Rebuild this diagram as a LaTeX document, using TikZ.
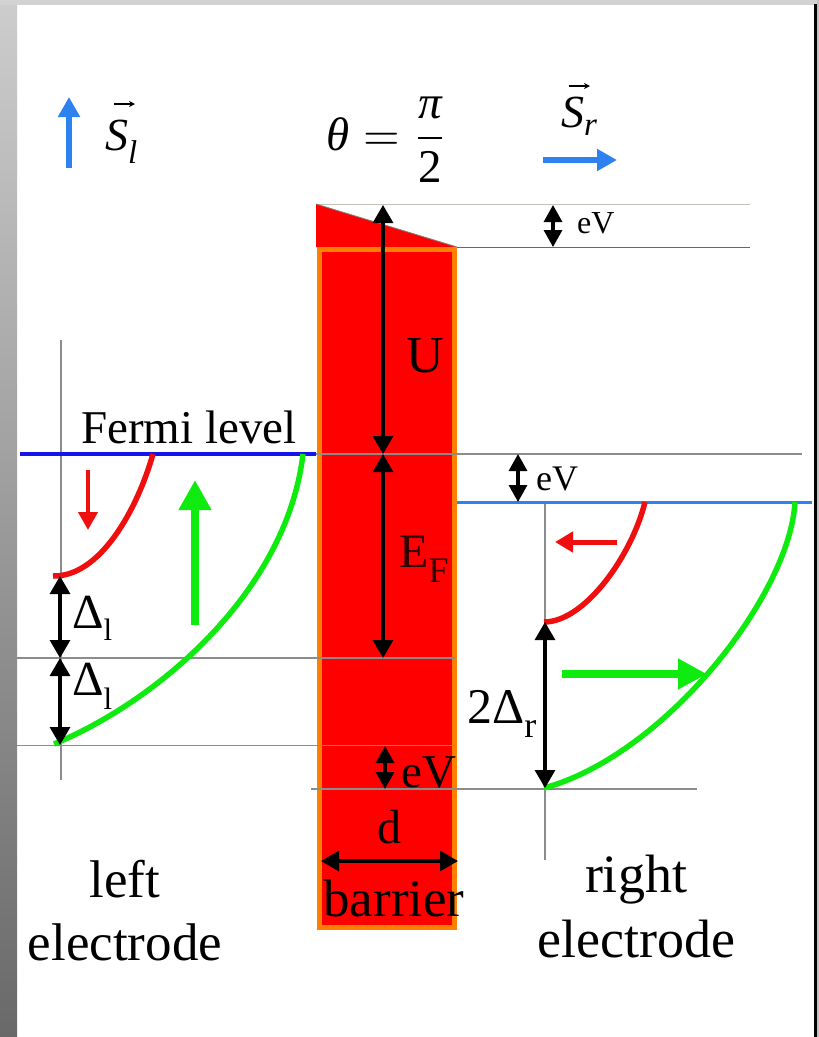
\documentclass[tikz,border=0pt]{standalone}
\usepackage{fontspec}
\setmainfont{Liberation Serif}
\usetikzlibrary{arrows.meta}
\definecolor{bluefermi}{RGB}{20,20,235}
\definecolor{bluelight}{RGB}{45,130,240}
\definecolor{redc}{RGB}{240,15,15}
\definecolor{barred}{RGB}{255,0,0}
\definecolor{barorange}{RGB}{255,128,0}
\definecolor{greenc}{RGB}{15,235,15}
\definecolor{linegray}{RGB}{140,140,140}
\definecolor{toplinegray}{RGB}{195,195,180}
\definecolor{slategray}{RGB}{100,100,125}
\definecolor{darktext}{RGB}{45,0,0}
\definecolor{framegray}{RGB}{210,210,210}
\definecolor{stripA}{RGB}{205,205,205}
\definecolor{stripB}{RGB}{105,105,105}
\newcommand\myfs[2]{\fontsize{#1}{#2}\selectfont}
\begin{document}
\begin{tikzpicture}[x=1pt,y=-1pt,
  thinline/.style={line width=1.2pt, draw=linegray},
  dimarrow/.style={line width=3.2pt, {Triangle[length=18pt,width=20pt]}-{Triangle[length=18pt,width=20pt]}},
  smalldim/.style={line width=3.2pt, {Triangle[length=17pt,width=18pt]}-{Triangle[length=17pt,width=18pt]}},
  vecarrow/.style={line width=1.3pt, -{Stealth[length=6pt,width=6pt]}},
  bandcurve/.style={line width=5.5pt},
  lbl/.style={inner sep=0pt, text=black},
]
% frame
\fill[white] (0,0) rectangle (819,1037);
\shade[top color=stripA, bottom color=stripB] (0,0) rectangle (17,1037);
\fill[framegray] (0,0) rectangle (819,5);
\fill[black] (813.5,4) rectangle (816.5,1037);
\fill[framegray!80!gray] (816.5,0) rectangle (819,1037);
\useasboundingbox (0,0) rectangle (819,1037);

% coordinates
\coordinate (slA) at (69,168);   \coordinate (slB) at (69,97);
\coordinate (srA) at (543,160);  \coordinate (srB) at (617,160);
\coordinate (vlA) at (114,104);  \coordinate (vlB) at (135,104);
\coordinate (vrA) at (569,86);   \coordinate (vrB) at (590,86);
\coordinate (uT) at (383,205);   \coordinate (uB) at (383,454);
\coordinate (efB) at (383,658);
\coordinate (evaT) at (553,205); \coordinate (evaB) at (553,247);
\coordinate (evbT) at (518,454); \coordinate (evbB) at (518,502);
\coordinate (evcT) at (385,746); \coordinate (evcB) at (385,789);
\coordinate (dlT) at (60,576);   \coordinate (dlM) at (60,658);  \coordinate (dlB) at (60,745);
\coordinate (drT) at (545,622);  \coordinate (drB) at (545,788);
\coordinate (dL) at (321,861);   \coordinate (dR) at (458,861);
\coordinate (rdA) at (88,470);   \coordinate (rdB) at (88,530);
\coordinate (guA) at (195,625);  \coordinate (guB) at (195,480);
\coordinate (rlA) at (617,542);  \coordinate (rlB) at (555,542);
\coordinate (grA) at (562,674);  \coordinate (grB) at (707,674);

% thin reference lines (behind barrier)
\draw[thinline, draw=toplinegray] (316,204.5) -- (750,204.5);
\draw[thinline, draw=slategray, line width=1.6pt] (457,247.5) -- (750,247.5);
\draw[thinline] (61,340) -- (61,780);
\draw[thinline] (545,502) -- (545,860);

% barrier
\fill[barred] (316,204) -- (457,247) -- (316,247) -- cycle;
\draw[line width=0.8pt, gray] (316,204) -- (457,247);
\filldraw[fill=barred, draw=barorange, line width=5pt] (319,249.5) rectangle (454.5,927.5);

% lines over the barrier
\draw[thinline] (316,454) -- (802,454);
\draw[thinline] (17,658) -- (455,658);
\draw[thinline] (17,745.5) -- (455,745.5);
\draw[thinline] (311,789) -- (697,789);

% levels
\draw[bluefermi, line width=3.5pt] (20,454) -- (316,454);
\draw[bluelight, line width=3.5pt] (457,502.5) -- (812,502.5);

% bands
\draw[bandcurve, redc] (53,576) .. controls (100,577) and (137,510) .. (153,454);
\draw[bandcurve, greenc] (54,744) .. controls (160,700) and (287,590) .. (303,454);
\draw[bandcurve, redc] (544,622) .. controls (585,622) and (632,555) .. (645,502);
\draw[bandcurve, greenc] (544,788) .. controls (665,755) and (790,595) .. (795,502);

% spin / motion arrows
\draw[bluelight, line width=6pt, -{Triangle[length=20pt,width=21pt]}] (slA) -- (slB);
\draw[bluelight, line width=6pt, -{Triangle[length=20pt,width=21pt]}] (srA) -- (srB);
\draw[redc, line width=4pt, -{Triangle[length=18pt,width=19pt]}] (rdA) -- (rdB);
\draw[greenc, line width=8pt, -{Triangle[length=30pt,width=31pt]}] (guA) -- (guB);
\draw[redc, line width=5pt, -{Triangle[length=18pt,width=20pt]}] (rlA) -- (rlB);
\draw[greenc, line width=8pt, -{Triangle[length=29pt,width=29pt]}] (grA) -- (grB);

% dimension arrows
\draw[dimarrow] (uT) -- (uB);
\draw[dimarrow] (uB) -- (efB);
\draw[smalldim] (evaT) -- (evaB);
\draw[smalldim] (evbT) -- (evbB);
\draw[smalldim] (evcT) -- (evcB);
\draw[dimarrow] (dlT) -- (dlM);
\draw[dimarrow] (dlM) -- (dlB);
\draw[dimarrow] (drT) -- (drB);
\draw[dimarrow] (dL) -- (dR);

% vector marks over S
\draw[vecarrow] (vlA) -- (vlB);
\draw[vecarrow] (vrA) -- (vrB);

% labels
\node[lbl, anchor=base west, font=\myfs{46}{50}\itshape] (sl) at (105,150) {S\raisebox{-13pt}{\myfs{33}{36}l}};
\node[lbl, anchor=base west, scale=4.7] (theta) at (326,150) {$\displaystyle\hbox{\itshape θ}=\frac{\hbox{\itshape π}}{\hbox{2}}$};
\node[lbl, anchor=base west, font=\myfs{46}{50}\itshape] (sr) at (561,127) {S\raisebox{-8pt}{\myfs{33}{36}r}};
\node[lbl, anchor=base, font=\myfs{47}{56}] (fermi) at (189,443) {Fermi level};
\node[lbl, anchor=base, font=\myfs{52}{60}] (ulabel) at (425,372) {U};
\node[lbl, anchor=base west, font=\myfs{48}{52}, text=darktext] (eflabel) at (399,567) {E\raisebox{-15pt}{\myfs{36}{40}F}};
\node[lbl, anchor=base west, font=\myfs{49}{56}] (dl1) at (72,628) {Δ\raisebox{-12pt}{\myfs{31}{36}l}};
\node[lbl, anchor=base west, font=\myfs{49}{56}] (dl2) at (72,695) {Δ\raisebox{-14pt}{\myfs{31}{36}l}};
\node[lbl, anchor=base west, font=\myfs{50}{56}] (d2r) at (467,723) {2Δ\raisebox{-14pt}{\myfs{36}{40}r}};
\node[lbl, anchor=base west, font=\myfs{32}{36}] (ev1) at (577,233) {eV};
\node[lbl, anchor=base west, font=\myfs{36}{40}] (ev2) at (536,490) {eV};
\node[lbl, anchor=base west, font=\myfs{47}{52}] (ev3) at (401,787) {eV};
\node[lbl, anchor=base, font=\myfs{48}{52}] (dlabel) at (389,843) {d};
\node[lbl, anchor=base, font=\myfs{53}{60}] (barrierlabel) at (394,916) {barrier};
\node[lbl, anchor=north, align=center, font=\myfs{53}{63}] (leftel) at (125,860) {left\\electrode};
\node[lbl, anchor=north, align=center, font=\myfs{54}{65}] (rightel) at (636,855) {right\\electrode};
\end{tikzpicture}
\end{document}
